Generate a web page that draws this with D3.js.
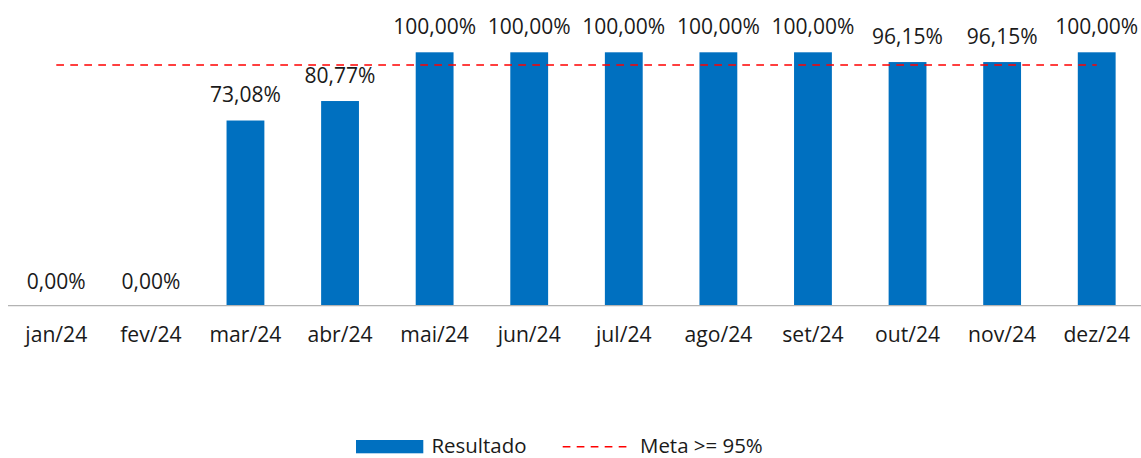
<!DOCTYPE html>
<html><head><meta charset="utf-8">
<script src="https://cdn.jsdelivr.net/npm/d3@7"></script>
<style>html,body{margin:0;padding:0;background:#fff;}svg{display:block;font-family:"Open Sans",sans-serif;}</style>
</head><body><svg id="c" width="1141" height="458"></svg>
<script>
const categories = ["jan/24","fev/24","mar/24","abr/24","mai/24","jun/24","jul/24","ago/24","set/24","out/24","nov/24","dez/24"];
const resultado = [0, 0, 73.08, 80.77, 100, 100, 100, 100, 100, 96.15, 96.15, 100];
const meta = [95, 95, 95, 95, 95, 95, 95, 95, 95, 95, 95, 95];
const legendLabels = ["Resultado", "Meta >= 95%"];

const svg = d3.select("#c");
const FONT = '"Open Sans",sans-serif';
function fitSize(str, target) {
  const t = svg.append("text").attr("font-family", FONT).attr("font-size", 20).text(str);
  const w = t.node().getComputedTextLength();
  t.remove();
  return 20 * target / w;
}
const valSize = fitSize("100,00%", 83);
const catSize = fitSize("jan/24", 62);
const legSize = fitSize("Resultado", 95);

const baseY = 305.7;
const x = d3.scaleBand().domain(categories).range([9, 1144]).paddingInner(0.6).paddingOuter(0.3);
const y = d3.scaleLinear().domain([0, 100]).range([baseY, 52.3]);
const fmt = v => v.toFixed(2).replace(".", ",") + "%";

svg.selectAll("rect.bar").data(resultado).join("rect").attr("class","bar")
  .attr("x", (d,i) => x(categories[i])).attr("width", x.bandwidth())
  .attr("y", d => y(d)).attr("height", d => baseY - y(d))
  .attr("fill", "#0070C0");

// axis
const ax = svg.append("g").attr("transform", `translate(0,${baseY})`)
  .call(d3.axisBottom(x).tickSize(0).tickPadding(0));
ax.select(".domain").attr("d", "M8,0H1141").attr("stroke", "#b3b3b3").attr("stroke-width", 1.3);
ax.selectAll(".tick text").attr("font-family", FONT).attr("font-size", catSize)
  .attr("fill", "#1a1a1a").attr("dy", null).attr("y", 36);

// meta line
const line = d3.line().x((d,i) => x(categories[i]) + x.bandwidth()/2).y(d => y(d));
svg.append("path").datum(meta).attr("d", line).attr("fill","none")
  .attr("stroke", "#FF0000").attr("stroke-width", 1.6).attr("stroke-dasharray", "7.7,6.3");

// value labels
svg.selectAll("text.val").data(resultado).join("text").attr("class","val")
  .attr("x", (d,i) => x(categories[i]) + x.bandwidth()/2)
  .attr("y", d => d === 0 ? baseY - 17 : y(d) - 18.5)
  .attr("text-anchor","middle").attr("font-family", FONT).attr("font-size", valSize).attr("fill","#1a1a1a")
  .text(d => fmt(d));

// legend
const lg = svg.append("g").attr("font-family", FONT).attr("font-size", legSize).attr("fill","#1a1a1a");
lg.append("rect").attr("x", 356).attr("y", 440).attr("width", 67.3).attr("height", 13.3).attr("fill", "#0070C0");
lg.append("text").attr("x", 431.5).attr("y", 453.3).text(legendLabels[0]);
lg.append("line").attr("x1", 562.7).attr("x2", 627).attr("y1", 446.7).attr("y2", 446.7)
  .attr("stroke","#FF0000").attr("stroke-width",1.6).attr("stroke-dasharray","7.7,6.3");
lg.append("text").attr("x", 640).attr("y", 453.3).text(legendLabels[1]);
</script></body></html>
